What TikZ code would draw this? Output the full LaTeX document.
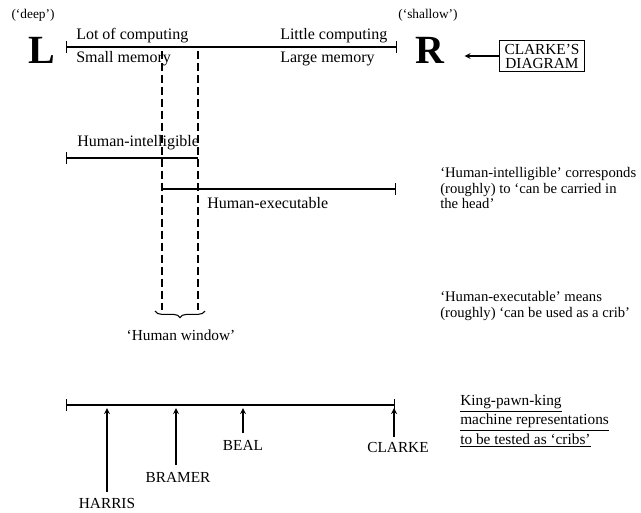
\documentclass[tikz,border=0pt]{standalone}
\usepackage{fontspec}
\setmainfont{Liberation Serif}
\usetikzlibrary{arrows.meta,decorations.pathreplacing}

\begin{document}
\begin{tikzpicture}[>=stealth,x=0.75pt,y=-0.75pt,
  font=\fontsize{11.5}{11.5}\selectfont,
  escala/.style={line width=1pt},
  intervalo/.style={line width=1pt,{Bar[width=9pt]}-{Bar[width=9pt]}},
  janela/.style={line width=0.8pt,dash pattern=on 6pt off 3pt},
  grande/.style={font=\fontsize{30}{30}\selectfont\bfseries,inner sep=0pt},
  caixa/.style={draw,line width=1pt,align=center,inner xsep=4pt,inner ysep=2.5pt,
    font=\fontsize{11.5}{10.5}\selectfont},
  seta/.style={->,line width=1pt},
  polo/.style={font=\fontsize{10}{10}\selectfont},
  rotulo/.style={anchor=west,inner sep=0pt,font=\fontsize{12}{12}\selectfont},
  texto/.style={anchor=west,align=left,inner sep=0pt,font=\fontsize{11}{11.5}\selectfont}]

  % moldura
  \useasboundingbox (0,0) rectangle (641,512);

  % escala L -- R
  \coordinate (L0) at (66,47);
  \coordinate (R0) at (397,47);
  \draw[intervalo] (L0) -- (R0);

  \node[polo] (deep) at (33,15) {(`deep')};
  \node[grande] (L) at (42,50) {L};
  \node[polo] (shallow) at (428,15) {(`shallow')};
  \node[grande] (R) at (430,50) {R};

  \node[rotulo] (lot) at (76,36) {Lot of computing};
  \node[rotulo] (little) at (280,36) {Little computing};
  \node[rotulo] (small) at (76,59) {Small memory};
  \node[rotulo] (large) at (280,59) {Large memory};

  % caixa do Clarke
  \node[caixa] (clarke) at (542,56) {CLARKE'S\\DIAGRAM};
  \draw[seta] (clarke.west) -- ++(-34,0) coordinate (Rtip);

  % janela humana
  \coordinate (J1a) at (162,51);
  \coordinate (J1b) at (162,310);
  \coordinate (J2a) at (198,51);
  \coordinate (J2b) at (198,310);
  \draw[janela] (J1a) -- (J1b);
  \draw[janela] (J2a) -- (J2b);
  \draw[line width=0.8pt,decorate,decoration={brace,mirror,amplitude=5pt}]
    (155,311) -- (205,311);
  \node (window) at (181,335) {`Human window'};

  % inteligivel / executavel
  \coordinate (I0) at (66,158);
  \coordinate (I1) at (198,158);
  \draw[escala,{Bar[width=9pt]}-] (I0) -- (I1);
  \node[rotulo] (intel) at (77,143) {Human-intelligible};

  \coordinate (E0) at (162,189);
  \coordinate (E1) at (396,189);
  \draw[escala,-{Bar[width=9pt]}] (E0) -- (E1);
  \node[rotulo] (exec) at (207,203) {Human-executable};

  % notas
  \node[texto] (notaI) at (440,188) {`Human-intelligible' corresponds\\(roughly) to `can be carried in\\the head'};
  \node[texto] (notaE) at (440,306) {`Human-executable' means\\(roughly) `can be used as a crib'};

  % representacoes
  \coordinate (B0) at (66,405);
  \coordinate (B1) at (395,405);
  \draw[intervalo] (B0) -- (B1);

  \node (harris) at (107,503) {HARRIS};
  \node (bramer) at (178,477) {BRAMER};
  \node (beal) at (243,445) {BEAL};
  \node (clarkeR) at (398,447) {CLARKE};

  \coordinate (pH) at (107,408);
  \coordinate (pB) at (176,408);
  \coordinate (pE) at (243,408);
  \coordinate (pC) at (394,408);
  \draw[seta] (harris) ++(0,-11) -- (pH);
  \draw[seta] (bramer) ++(-2,-12) -- (pB);
  \draw[seta] (beal) ++(0,-12) -- (pE);
  \draw[seta] (clarkeR) ++(-4,-10) -- (pC);

  \node[texto,font=\fontsize{11.5}{14.5}\selectfont] (kpk) at (460,421)
    {\underline{King-pawn-king}\\\underline{machine representations}\\\underline{to be tested as `cribs'}};

\end{tikzpicture}
\end{document}
